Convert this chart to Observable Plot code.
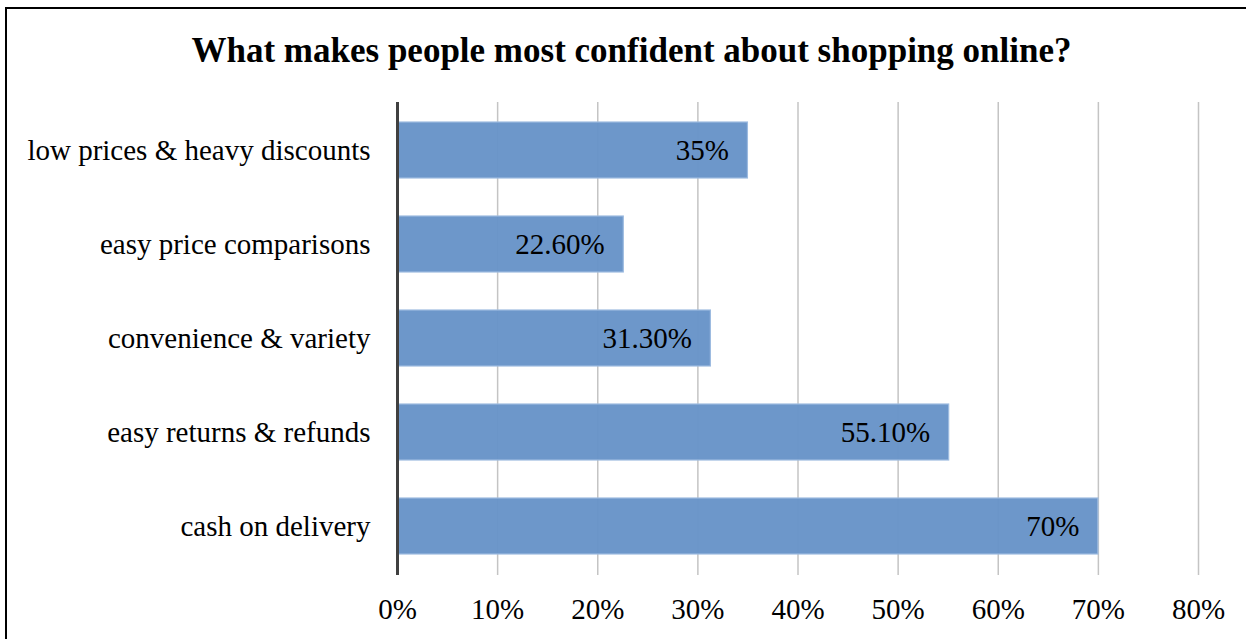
<!DOCTYPE html>
<html>
<head>
<meta charset="utf-8">
<script src="https://cdn.jsdelivr.net/npm/d3@7"></script>
<script src="https://cdn.jsdelivr.net/npm/@observablehq/plot@0.6"></script>
<style>
  html, body { margin: 0; padding: 0; background: #fff; overflow: hidden; }
  #frame { position: absolute; left: 5px; top: 7px; width: 1300px; height: 700px; border: 2px solid #000; box-sizing: border-box; pointer-events: none; }
  #title { position: absolute; left: 0; top: 0; width: 1246px; height: 90px; font-family: "Liberation Serif", "Times New Roman", serif; font-weight: bold; font-size: 35px; text-align: center; line-height: 35px; padding-top: 33px; box-sizing: border-box; padding-left: 17px; }
  #chart { position: absolute; left: 0; top: 90px; }
</style>
</head>
<body>
<div id="title">What makes people most confident about shopping online?</div>
<div id="chart"></div>
<div id="frame"></div>
<script>
const categories = ["low prices & heavy discounts", "easy price comparisons", "convenience & variety", "easy returns & refunds", "cash on delivery"];
const values = [0.35, 0.226, 0.313, 0.551, 0.70];
const valueLabels = ["35%", "22.60%", "31.30%", "55.10%", "70%"];
const xTicks = [0, 0.1, 0.2, 0.3, 0.4, 0.5, 0.6, 0.7, 0.8];

const data = categories.map((c, i) => ({category: c, value: values[i], label: valueLabels[i]}));

const chart = Plot.plot({
  width: 1246,
  height: 549,
  marginTop: 12,
  marginBottom: 64,
  marginLeft: 397,
  marginRight: 48,
  style: {fontFamily: '"Liberation Serif", "Times New Roman", serif', fontSize: "29px", color: "#000", background: "transparent"},
  x: {domain: [0, 0.8], ticks: xTicks, tickFormat: d3.format(".0%"), label: null},
  y: {domain: categories, paddingInner: 0.4, paddingOuter: 0.2, label: null},
  marks: [
    Plot.ruleX(xTicks.slice(1), {stroke: "#c4c4c4", strokeWidth: 1.5}),
    Plot.barX(data, {y: "category", x: "value", fill: "#6894c8", fillOpacity: 0.97, stroke: "#9dbbe0", strokeWidth: 1.2}),
    Plot.text(data, {y: "category", x: "value", text: "label", textAnchor: "end", dx: -19, fill: "#000", fontSize: 29}),
    Plot.ruleX([0], {stroke: "#404040", strokeWidth: 3}),
    Plot.axisX({ticks: xTicks, tickFormat: d3.format(".0%"), tickSize: 0, tickPadding: 23, fontSize: 29, label: null}),
    Plot.axisY({tickSize: 0, tickPadding: 27, fontSize: 29, label: null})
  ]
});
document.getElementById("chart").appendChild(chart);
</script>
</body>
</html>
